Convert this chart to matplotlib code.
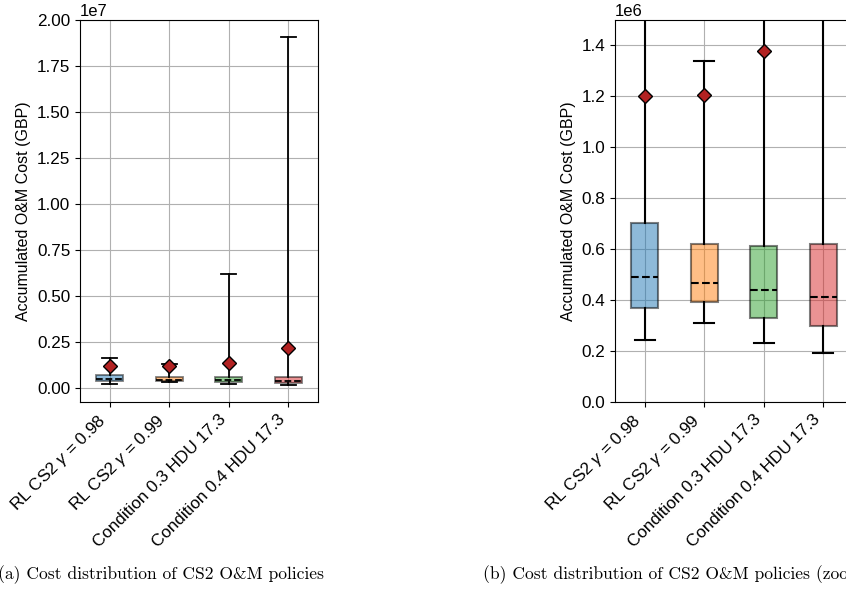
import matplotlib.pyplot as plt
import numpy as np

plt.rcParams['font.family'] = ['Liberation Sans', 'DejaVu Sans']
plt.rcParams['mathtext.fontset'] = 'custom'
plt.rcParams['mathtext.it'] = 'Liberation Sans:italic'
plt.rcParams['mathtext.rm'] = 'Liberation Sans'

labels = [r'RL CS2 $\gamma$ = 0.98', r'RL CS2 $\gamma$ = 0.99',
          'Condition 0.3 HDU 17.3', 'Condition 0.4 HDU 17.3']
colors = ['tab:blue', 'tab:orange', 'tab:green', 'tab:red']

# box statistics (GBP)
whislo = [0.243e6, 0.311e6, 0.233e6, 0.192e6]
q1 = [0.371e6, 0.391e6, 0.331e6, 0.298e6]
med = [0.490e6, 0.467e6, 0.440e6, 0.413e6]
q3 = [0.703e6, 0.619e6, 0.611e6, 0.619e6]
whishi = [1.65e6, 1.34e6, 6.18e6, 19.06e6]
means = [1.20e6, 1.205e6, 1.38e6, 2.19e6]


def make_stats():
    stats = []
    for i in range(len(labels)):
        stats.append({'whislo': whislo[i], 'q1': q1[i], 'med': med[i], 'q3': q3[i],
                      'whishi': whishi[i], 'mean': means[i], 'fliers': [], 'label': labels[i]})
    return stats


def draw_panel(ax, lw, capw):
    bp = ax.bxp(make_stats(), showmeans=True, patch_artist=True, capwidths=capw,
                medianprops=dict(color='black', linestyle='--', linewidth=lw),
                whiskerprops=dict(color='black', linewidth=lw),
                capprops=dict(color='black', linewidth=lw),
                boxprops=dict(linewidth=lw),
                meanprops=dict(marker='D', markerfacecolor='firebrick',
                               markeredgecolor='black', markersize=7))
    for patch, c in zip(bp['boxes'], colors):
        patch.set_facecolor(c)
        patch.set_edgecolor('black')
        patch.set_alpha(0.5)
    ax.grid(True)
    ax.set_ylabel('Accumulated O&M Cost (GBP)', fontsize=11.5)
    ax.tick_params(labelsize=12.3)
    plt.setp(ax.get_xticklabels(), rotation=45, ha='right')
    ax.yaxis.get_offset_text().set_fontsize(12)


fig = plt.figure(figsize=(8.46, 6.06), dpi=100)
W, H = 846.0, 606.0

ax1 = fig.add_axes([80 / W, (H - 402) / H, 238 / W, 382 / H])
draw_panel(ax1, 1.3, 0.25)
ax1.set_ylim(-0.075e7, 2.0e7)

ax2 = fig.add_axes([615 / W, (H - 402) / H, 238 / W, 382 / H])
draw_panel(ax2, 1.5, 0.34)
ax2.set_ylim(0, 1.5e6)

fig.text(-2 / W, 1 - 575 / H, '(a) Cost distribution of CS2 O&M policies',
         family='cmr10', fontsize=12.6, va='center', ha='left')
fig.text(483 / W, 1 - 575 / H, '(b) Cost distribution of CS2 O&M policies (zoomed)',
         family='cmr10', fontsize=12.6, va='center', ha='left')

fig.savefig('out.png', dpi=100)
